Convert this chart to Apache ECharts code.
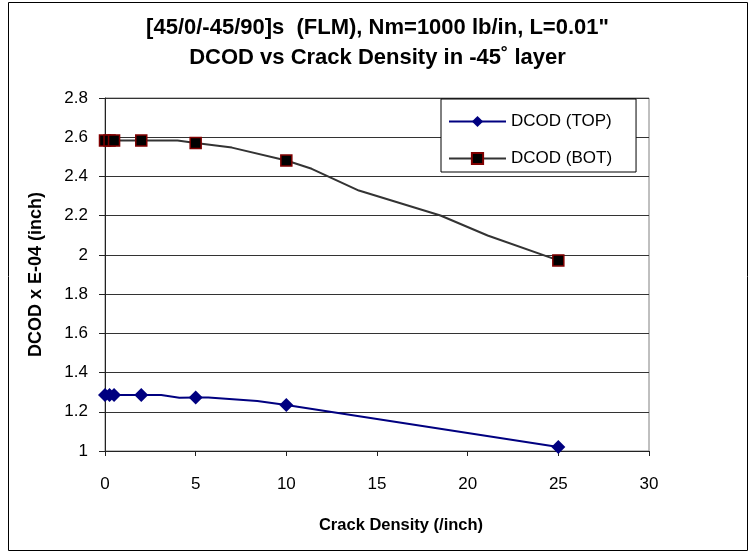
<!DOCTYPE html>
<html>
<head>
<meta charset="utf-8">
<script src="https://cdn.jsdelivr.net/npm/echarts@6/dist/echarts.min.js"></script>
<style>
  html, body { margin: 0; padding: 0; background: #fff; }
  #main { width: 755px; height: 554px; }
</style>
</head>
<body>
<div id="main"></div>
<script>
// crack density (/inch) and DCOD x E-04 (inch)
var topX = [0, 0.25, 0.5, 2, 3.1, 4.1, 5, 5.7, 8.4, 10, 15, 25];
var topY = [1.285, 1.285, 1.285, 1.285, 1.285, 1.272, 1.273, 1.273, 1.255, 1.234, 1.163, 1.02];
var botX = [0, 0.25, 0.5, 2, 4, 5, 7, 10, 11.4, 14, 18.5, 21.1, 25];
var botY = [2.583, 2.583, 2.583, 2.583, 2.583, 2.571, 2.547, 2.481, 2.439, 2.328, 2.201, 2.099, 1.972];
// densities that carry a marker
var markedX = [0, 0.25, 0.5, 2, 5, 10, 25];

var xTicks = [0, 5, 10, 15, 20, 25, 30];
var yTicks = [1, 1.2, 1.4, 1.6, 1.8, 2, 2.2, 2.4, 2.6, 2.8];

var font = 'Liberation Sans, Arial, sans-serif';

function points(xs, ys) {
    return xs.map(function (x, i) {
        var p = { value: [x, ys[i]] };
        if (markedX.indexOf(x) < 0) p.symbol = 'none';
        return p;
    });
}

var myChart = echarts.init(document.getElementById('main'));
var options = {
    backgroundColor: '#fff',
    animation: false,
    title: {
        text: '[45/0/-45/90]s  (FLM), Nm=1000 lb/in, L=0.01"\nDCOD vs Crack Density in -45\u02da layer',
        left: 'center',
        top: 8,
        textStyle: { fontFamily: font, fontSize: 22, fontWeight: 'bold', color: '#000', lineHeight: 30 }
    },
    legend: {
        orient: 'vertical',
        left: 441,
        top: 99,
        padding: [14, 24, 5, 7],
        itemGap: 20,
        itemWidth: 57,
        itemHeight: 14,
        backgroundColor: '#fff',
        borderColor: '#000',
        borderWidth: 1,
        borderRadius: 0,
        textStyle: { fontFamily: font, fontSize: 17, color: '#000' },
        data: ['DCOD (TOP)', 'DCOD (BOT)']
    },
    grid: {
        left: 105, right: 106, top: 98, bottom: 103,
        show: true, borderColor: '#808080', borderWidth: 1
    },
    xAxis: {
        type: 'value',
        min: xTicks[0], max: xTicks[xTicks.length - 1], interval: 5,
        name: 'Crack Density (/inch)',
        nameLocation: 'middle',
        nameGap: 66,
        nameTextStyle: { fontFamily: font, fontSize: 16.5, fontWeight: 'bold', color: '#000', padding: [0, 0, 0, 48] },
        axisLine: { lineStyle: { color: '#222', width: 1 } },
        axisTick: { inside: false, length: 5, lineStyle: { color: '#222' } },
        axisLabel: { fontFamily: font, fontSize: 17, color: '#000', margin: 25 },
        splitLine: { show: false }
    },
    yAxis: {
        type: 'value',
        min: yTicks[0], max: yTicks[yTicks.length - 1], interval: 0.2,
        name: 'DCOD x E-04 (inch)',
        nameLocation: 'middle',
        nameGap: 60,
        nameTextStyle: { fontFamily: font, fontSize: 18, fontWeight: 'bold', color: '#000' },
        axisLine: { show: true, lineStyle: { color: '#222', width: 1 } },
        axisTick: { show: true, inside: false, length: 6, lineStyle: { color: '#222' } },
        axisLabel: {
            fontFamily: font, fontSize: 17, color: '#000', margin: 17,
            formatter: function (v) { return String(Math.round(v * 10) / 10); }
        },
        splitLine: { show: true, lineStyle: { color: '#333', width: 1 } }
    },
    series: [{
        name: 'DCOD (TOP)',
        type: 'line',
        data: points(topX, topY),
        symbol: 'diamond',
        symbolSize: 14,
        showSymbol: true,
        lineStyle: { color: '#000080', width: 2 },
        itemStyle: { color: '#000080', borderWidth: 0 },
        z: 3
    }, {
        name: 'DCOD (BOT)',
        type: 'line',
        data: points(botX, botY),
        symbol: 'rect',
        symbolSize: 11,
        showSymbol: true,
        lineStyle: { color: '#333', width: 2 },
        itemStyle: { color: '#000', borderColor: '#800000', borderWidth: 1.5 },
        z: 3
    }],
    graphic: [{
        type: 'rect',
        shape: { x: 8.5, y: 2.5, width: 739, height: 548 },
        style: { fill: null, stroke: '#000', lineWidth: 1 },
        silent: true
    }]
};
myChart.setOption(options, true);
</script>
</body>
</html>
